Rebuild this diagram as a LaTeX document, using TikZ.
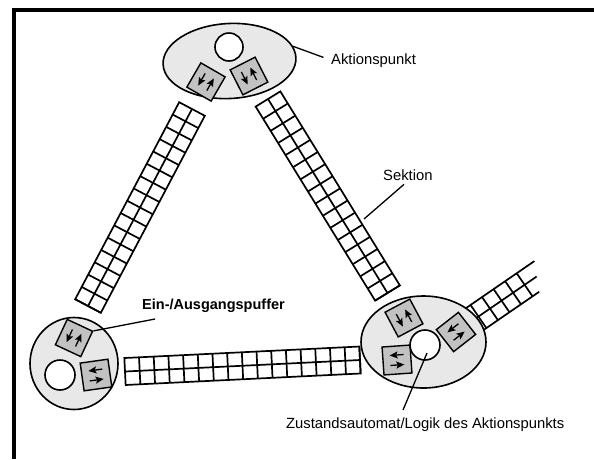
\documentclass[tikz,border=0pt]{standalone}
\usepackage{fontspec}
\setmainfont{Liberation Sans}
\usetikzlibrary{shapes.geometric,arrows.meta,calc}
\definecolor{apfill}{HTML}{E8E8E8}
\definecolor{boxfill}{HTML}{C2C2C2}

% ladder-shaped section: start x,y ; end x,y ; width ; number of cells
\newcommand\drawladder[6]{%
  \pgfmathsetmacro\ldx{#3-#1}%
  \pgfmathsetmacro\ldy{#4-#2}%
  \pgfmathsetmacro\llen{veclen(\ldx,\ldy)}%
  \pgfmathsetmacro\lang{atan2(-\ldy,\ldx)}%
  \pgfmathsetmacro\lhw{#5/2}%
  \pgfmathsetmacro\lstep{\llen/#6}%
  \begin{scope}[shift={(#1,#2)}, rotate=\lang]
    \draw[sect] (0,-\lhw) -- (\llen,-\lhw) -- (\llen,\lhw) -- (0,\lhw) -- cycle;
    \draw[sect] (0,0) -- (\llen,0);
    \foreach \k in {1,...,#6} {\draw[sect] (\k*\lstep,-\lhw) -- (\k*\lstep,\lhw);}
  \end{scope}}

% buffer box, arrows down/up
\newcommand\ioboxV[4]{%
  \node[iobox, rotate=#4] (#1) at (#2,#3) {};
  \begin{scope}[shift={(#2,#3)}, rotate=#4]
    \draw[ioarr] (-5,-7) -- (-5,7);
    \draw[ioarr] (5,7) -- (5,-7);
  \end{scope}}
% buffer box, arrows left/right
\newcommand\ioboxH[4]{%
  \node[iobox, rotate=#4] (#1) at (#2,#3) {};
  \begin{scope}[shift={(#2,#3)}, rotate=#4]
    \draw[ioarr] (7,-5) -- (-7,-5);
    \draw[ioarr] (-7,5) -- (7,5);
  \end{scope}}

\begin{document}
\begin{tikzpicture}[x=1pt,y=-1pt,
  sect/.style={line width=1.7pt, line join=miter},
  apoint/.style={ellipse, draw, line width=1.6pt, fill=apfill, inner sep=0pt},
  logic/.style={circle, draw, line width=1.6pt, fill=white, inner sep=0pt},
  iobox/.style={rectangle, draw, line width=1.4pt, fill=boxfill, minimum size=28pt, inner sep=0pt},
  ioarr/.style={line width=1.3pt, -{Stealth[length=8pt,width=7pt,inset=1.5pt]}},
  lbl/.style={inner sep=0pt, font=\fontsize{14.8}{17}\selectfont},
  lead/.style={line width=1.3pt}]

\useasboundingbox (0,0) rectangle (594,459);
\fill[white] (0,0) rectangle (594,459);

% frame
\draw[line width=3.5pt] (14,459) -- (14,10) -- (594,10);

% sections
\drawladder{192}{109}{88}{306}{29}{16}
\drawladder{268}{99}{387.5}{293}{29}{16}
\drawladder{125}{371.5}{360}{360}{27}{16}

% open section to the right
\begin{scope}[shift={(524.6,284.8)}, rotate=34.5]
  \draw[sect] (-75,-14) -- (21.5,-14);
  \draw[sect] (-75,0) -- (14.6,0);
  \draw[sect] (-75,14) -- (8,14);
  \foreach \s in {0,-14,-28,-42,-56} {\draw[sect] (\s,-14) -- (\s,14);}
\end{scope}

% action points
\node[apoint, minimum width=133pt, minimum height=75pt, rotate=3] (apT) at (229.5,61) {};
\node[apoint, minimum width=88pt, minimum height=92pt] (apL) at (74,363.5) {};
\node[apoint, minimum width=125pt, minimum height=92pt] (apR) at (423.5,342) {};

% buffers
\ioboxV{bT1}{206}{82}{-30}
\ioboxV{bT2}{249}{76}{27}
\ioboxV{bL1}{74}{338}{-25}
\ioboxH{bL2}{96}{375}{8}
\ioboxV{bR1}{404}{318}{28}
\ioboxH{bR2}{456}{332}{38}
\ioboxH{bR3}{397}{360}{4}

% state machines / logic
\node[logic, minimum size=28pt] (cT) at (229,47) {};
\node[logic, minimum size=30pt] (cL) at (60,375) {};
\node[logic, minimum size=30pt] (cR) at (425,345) {};

% labels
\node[lbl, anchor=base west] (akt) at (331,64) {Aktionspunkt};
\node[lbl, anchor=base west] (sek) at (383,180) {Sektion};
\node[lbl, anchor=base west, font=\fontsize{14.5}{17}\selectfont\bfseries] (ein) at (142,309.5) {Ein-/Ausgangspuffer};
\node[lbl, anchor=base west] (zus) at (286,428) {Zustandsautomat/Logik des Aktionspunkts};

% leader lines
\coordinate (sekEnd) at (364,219);
\coordinate (einEnd) at (155,319);
\coordinate (zusEnd) at (403,410);
\draw[lead, shorten >=8pt] (apT.10) -- (akt.west);
\draw[lead] ([shift={(21,4)}]sek.south west) -- (sekEnd);
\draw[lead] (bL1.north east) -- (einEnd);
\draw[lead] ([shift={(2,8)}]cR.center) -- (zusEnd);
\end{tikzpicture}
\end{document}
